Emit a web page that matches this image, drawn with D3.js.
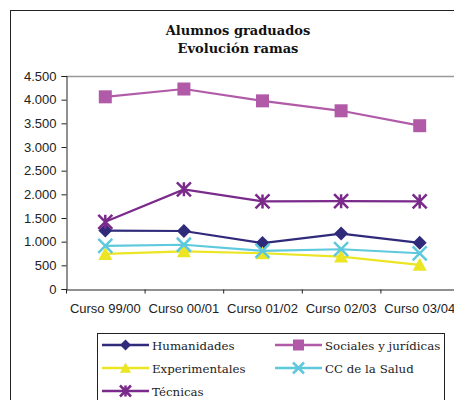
<!DOCTYPE html>
<html>
<head>
<meta charset="utf-8">
<script src="https://cdn.jsdelivr.net/npm/d3@7"></script>
<style>
  body { margin: 0; background: #fff; }
  svg { display: block; }
</style>
</head>
<body>
<svg></svg>
<script>
  //Chart data
  const cursos = ['Curso 99/00', 'Curso 00/01', 'Curso 01/02', 'Curso 02/03', 'Curso 03/04'];
  const humanidades = [1235, 1225, 970, 1170, 975];
  const sociales = [4060, 4225, 3975, 3765, 3450];
  const experimentales = [740, 795, 755, 685, 510];
  const ccSalud = [910, 935, 805, 840, 755];
  const tecnicas = [1420, 2105, 1850, 1855, 1850];
  const yTicks = [0, 500, 1000, 1500, 2000, 2500, 3000, 3500, 4000, 4500];

  const series = [
    { name: 'Humanidades', values: humanidades, color: '#2f2a7a', marker: 'diamond' },
    { name: 'Sociales y jurídicas', values: sociales, color: '#b15ba8', marker: 'square' },
    { name: 'Experimentales', values: experimentales, color: '#ebe524', marker: 'triangle' },
    { name: 'CC de la Salud', values: ccSalud, color: '#5ec8dc', marker: 'cross' },
    { name: 'Técnicas', values: tecnicas, color: '#7a2a8a', marker: 'star' },
  ];

  const width = 454;
  const height = 400;
  const svg = d3.select('svg').attr('width', width).attr('height', height);

  //Outer chart frame (runs off the right/bottom edge)
  svg.append('rect')
    .attr('x', 10.5).attr('y', 10.5)
    .attr('width', 460).attr('height', 400)
    .attr('fill', 'none').attr('stroke', '#222');

  //Title
  const title = svg.append('text')
    .attr('text-anchor', 'middle')
    .attr('font-family', 'DejaVu Serif')
    .attr('font-weight', 'bold')
    .attr('font-size', 13)
    .attr('fill', '#111');
  title.append('tspan').attr('x', 238).attr('y', 35).text('Alumnos graduados');
  title.append('tspan').attr('x', 238).attr('y', 53).text('Evolución ramas');

  //Plot area
  const plot = { left: 66, top: 76, bottom: 289, right: 459 };

  const x = d3.scaleBand().domain(cursos).range([plot.left, plot.right]);
  const y = d3.scaleLinear().domain([0, 4500]).range([plot.bottom, plot.top]);

  //Gray plot border on top
  svg.append('line')
    .attr('x1', plot.left).attr('x2', plot.right)
    .attr('y1', plot.top + 0.5).attr('y2', plot.top + 0.5)
    .attr('stroke', '#999').attr('stroke-width', 1.5);

  //Y axis
  const yAxis = svg.append('g')
    .attr('transform', `translate(${plot.left + 0.5},0)`)
    .call(d3.axisLeft(y).tickValues(yTicks).tickSize(5).tickPadding(5)
      .tickFormat(d => d3.format(',')(d).replace(/,/g, '.')));
  yAxis.select('.domain').attr('stroke', '#222');
  yAxis.selectAll('.tick line').attr('stroke', '#222');
  yAxis.selectAll('text')
    .attr('font-family', 'Liberation Sans, Arial, sans-serif')
    .attr('font-size', 13).attr('fill', '#222');

  //X axis, ticks between categories
  const xAxis = svg.append('g')
    .attr('transform', `translate(0,${plot.bottom + 0.5})`)
    .call(d3.axisBottom(x).tickSize(0).tickPadding(14));
  xAxis.select('.domain').attr('stroke', '#222');
  xAxis.selectAll('text')
    .attr('font-family', 'Liberation Sans, Arial, sans-serif')
    .attr('font-size', 13).attr('fill', '#222');
  xAxis.selectAll('.sep')
    .data(cursos)
    .enter().append('line')
    .attr('class', 'sep')
    .attr('x1', d => x(d) + 0.5).attr('x2', d => x(d) + 0.5)
    .attr('y1', 0).attr('y2', 4)
    .attr('stroke', '#222');

  //Marker shapes
  function drawMarker(g, type, color, size) {
    const s = size / 2;
    if (type === 'diamond') {
      g.append('path').attr('d', `M0,${-s}L${s},0L0,${s}L${-s},0Z`).attr('fill', color);
    } else if (type === 'square') {
      g.append('rect').attr('x', -s).attr('y', -s).attr('width', size).attr('height', size).attr('fill', color);
    } else if (type === 'triangle') {
      g.append('path').attr('d', `M0,${-s}L${s},${s * 0.85}L${-s},${s * 0.85}Z`).attr('fill', color);
    } else if (type === 'cross') {
      g.append('path').attr('d', `M${-s},${-s}L${s},${s}M${s},${-s}L${-s},${s}`)
        .attr('stroke', color).attr('stroke-width', 2.5).attr('fill', 'none');
    } else if (type === 'star') {
      g.append('path').attr('d', `M${-s},${-s}L${s},${s}M${s},${-s}L${-s},${s}M0,${-s}L0,${s}`)
        .attr('stroke', color).attr('stroke-width', 2.5).attr('fill', 'none');
    }
  }

  const line = d3.line()
    .x((d, i) => x(cursos[i]) + x.bandwidth() / 2)
    .y(d => y(d));

  //Draw series
  series.forEach(s => {
    svg.append('path')
      .datum(s.values)
      .attr('d', line)
      .attr('fill', 'none')
      .attr('stroke', s.color)
      .attr('stroke-width', 2.2);
    s.values.forEach((v, i) => {
      const g = svg.append('g')
        .attr('transform', `translate(${x(cursos[i]) + x.bandwidth() / 2},${y(v)})`);
      drawMarker(g, s.marker, s.color, s.marker === 'square' ? 13 : 14);
    });
  });

  //Legend
  svg.append('rect')
    .attr('x', 97.5).attr('y', 333.5)
    .attr('width', 347).attr('height', 80)
    .attr('fill', '#fff').attr('stroke', '#222');

  const legendPos = [
    { x: 102, y: 345 }, { x: 275, y: 345 },
    { x: 102, y: 368 }, { x: 275, y: 368 },
    { x: 102, y: 391 },
  ];
  series.forEach((s, i) => {
    const p = legendPos[i];
    const g = svg.append('g').attr('transform', `translate(${p.x},${p.y})`);
    g.append('line').attr('x1', 0).attr('x2', 47).attr('y1', 0).attr('y2', 0)
      .attr('stroke', s.color).attr('stroke-width', 2.5);
    const m = g.append('g').attr('transform', 'translate(23.5,0)');
    drawMarker(m, s.marker, s.color, 11);
    g.append('text')
      .attr('x', 50).attr('y', 4.5)
      .attr('font-family', 'DejaVu Serif')
      .attr('font-size', 11.8)
      .attr('fill', '#222')
      .text(s.name);
  });
</script>
</body>
</html>
